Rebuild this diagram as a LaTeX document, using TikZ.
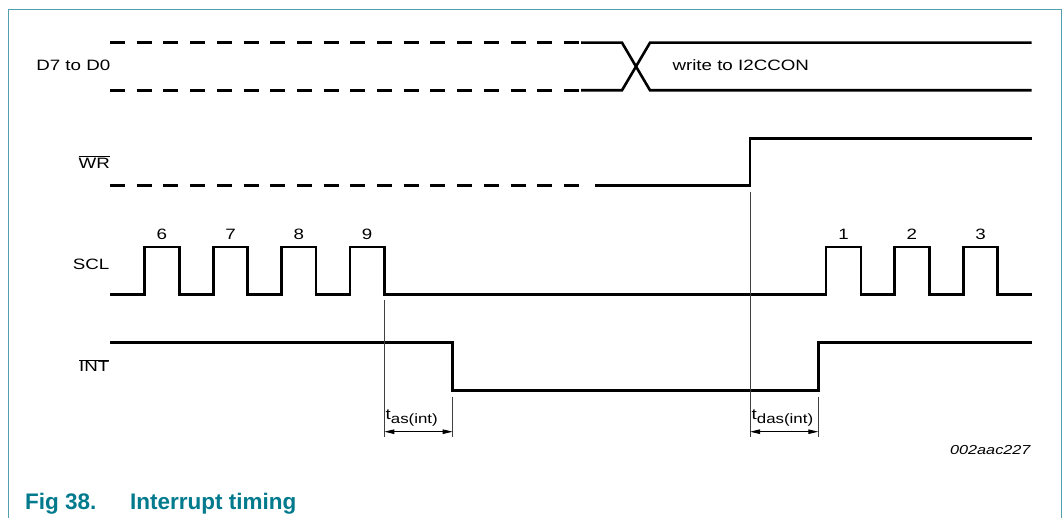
\documentclass[tikz,border=0pt]{standalone}
\usepackage{fontspec}
\setmainfont{Liberation Sans}[FakeStretch=1.25]
\newfontfamily\capfont{Liberation Sans}
\usetikzlibrary{arrows.meta}
\definecolor{frameteal}{RGB}{80,160,175}
\definecolor{capteal}{RGB}{0,122,140}
\tikzset{
  sig/.style={line width=2.6pt, line join=miter, black},
  sigdash/.style={sig, dash pattern=on 15pt off 11.7pt},
  marker/.style={line width=0.8pt, black!75},
  meas/.style={line width=0.9pt, {Triangle[length=10pt,width=4.5pt]}-{Triangle[length=10pt,width=4.5pt]}},
  lbl/.style={font=\fontsize{15}{18}\selectfont, inner sep=0pt},
  num/.style={font=\fontsize{15}{18}\selectfont, inner sep=0pt, anchor=base},
}
\begin{document}
\begin{tikzpicture}[x=1pt,y=-1pt]
\useasboundingbox (0,0) rectangle (1063,518);
% frame
\draw[frameteal, line width=1.1pt] (8.3,520) -- (8.3,9.3) -- (1061.5,9.3) -- (1061.5,520);
% labels
\node[lbl, anchor=base east] (ld) at (110.5,70.7) {D7 to D0};
\node[lbl, anchor=base east] (lwr) at (110,168.3) {$\overline{\mbox{WR}}$};
\node[lbl, anchor=base east] (lscl) at (109.5,270) {SCL};
\node[lbl, anchor=base east] (lint) at (109.5,371.7) {$\overline{\mbox{INT}}$};
% data bus
\draw[sigdash] (110,42.7) -- (579,42.7);
\draw[sigdash] (110,90.3) -- (579,90.3);
\draw[sig] (581,42.7) -- (622,42.7) -- (650,90.3) -- (1031.7,90.3);
\draw[sig] (581,90.3) -- (622,90.3) -- (650,42.7) -- (1031.7,42.7);
\node[lbl, anchor=base west] (wtext) at (672.3,70.7) {write to I2CCON};
% WR
\draw[sigdash] (110,185.5) -- (579,185.5);
\draw[sig] (595,185.5) -- (750,185.5) -- (750,138.3) -- (1031.7,138.3);
% SCL
\draw[sig] (110,294.3) -- (144.3,294.3) -- (144.3,247) -- (179.3,247) -- (179.3,294.3)
  -- (213.3,294.3) -- (213.3,247) -- (247.7,247) -- (247.7,294.3)
  -- (281.7,294.3) -- (281.7,247) -- (316,247) -- (316,294.3)
  -- (350,294.3) -- (350,247) -- (384.3,247) -- (384.3,294.3)
  -- (826,294.3) -- (826,247) -- (861,247) -- (861,294.3)
  -- (894.3,294.3) -- (894.3,247) -- (929.3,247) -- (929.3,294.3)
  -- (963.3,294.3) -- (963.3,247) -- (997.7,247) -- (997.7,294.3) -- (1031.7,294.3);
\node[num] (n6) at (161.8,239.3) {6};
\node[num] (n7) at (230.5,239.3) {7};
\node[num] (n8) at (298.8,239.3) {8};
\node[num] (n9) at (367.2,239.3) {9};
\node[num] (n1) at (843.5,239.3) {1};
\node[num] (n2) at (911.8,239.3) {2};
\node[num] (n3) at (980.5,239.3) {3};
% INT
\draw[sig] (110,342.7) -- (452.7,342.7) -- (452.7,390.7) -- (818.3,390.7) -- (818.3,342.5) -- (1031.7,342.5);
% markers
\coordinate (m1t) at (384.3,300);   \coordinate (m1b) at (384.3,437);
\coordinate (m2t) at (452.7,396.7); \coordinate (m2b) at (452.7,437);
\coordinate (m3t) at (750,192);     \coordinate (m3b) at (750,437);
\coordinate (m4t) at (818.3,396.7); \coordinate (m4b) at (818.3,437);
\draw[marker] (m1t) -- (m1b);
\draw[marker] (m2t) -- (m2b);
\draw[marker] (m3t) -- (m3b);
\draw[marker] (m4t) -- (m4b);
\coordinate (a1) at (384.3,431.7); \coordinate (a2) at (452.7,431.7);
\coordinate (a3) at (750,431.7);   \coordinate (a4) at (818.3,431.7);
\draw[meas] (a1) -- (a2);
\draw[meas] (a3) -- (a4);
\node[lbl, anchor=base west] (tas) at (385.5,419.3) {t\raisebox{-4pt}{\fontsize{13.5}{16}\selectfont as(int)}};
\node[lbl, anchor=base west] (tdas) at (751.5,419.8) {t\raisebox{-4pt}{\fontsize{13.5}{16}\selectfont das(int)}};
\node[lbl, anchor=base east, font=\fontsize{13}{16}\selectfont\itshape] (code) at (1030.7,454) {002aac227};
% caption
\node[anchor=base west, inner sep=0pt, text=capteal, font=\capfont\bfseries\fontsize{22.5}{26}\selectfont] (cap) at (25,509.3) {\makebox[105pt][l]{Fig 38.}Interrupt timing};
\end{tikzpicture}
\end{document}
